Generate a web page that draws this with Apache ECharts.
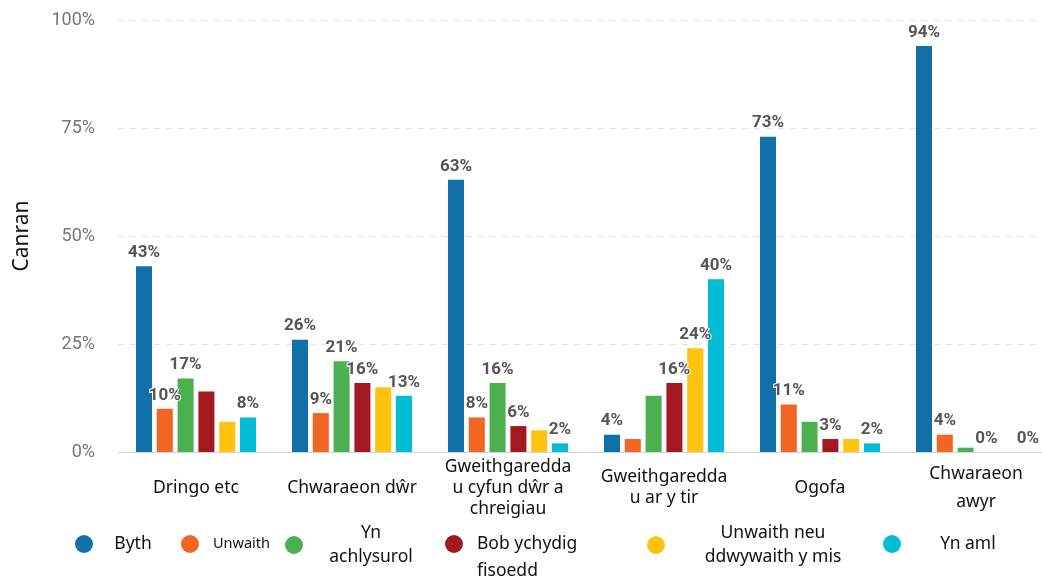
<!DOCTYPE html>
<html><head><meta charset="utf-8">
<script src="https://cdn.jsdelivr.net/npm/echarts@6/dist/echarts.min.js"></script>
<style>html,body{margin:0;padding:0;background:#fff}#c{width:1042px;height:577px}</style>
</head><body><div id="c"></div>
<script>
const categories = ['Dringo etc', 'Chwaraeon dŵr', 'Gweithgareddau cyfun dŵr a chreigiau', 'Gweithgareddau ar y tir', 'Ogofa', 'Chwaraeon awyr'];
const tickLabels = ['Dringo etc', 'Chwaraeon dŵr', 'Gweithgaredda\nu cyfun dŵr a\nchreigiau', 'Gweithgaredda\nu ar y tir', 'Ogofa', 'Chwaraeon\nawyr'];
const yTicks = [0, 25, 50, 75, 100];
const seriesNames = ['Byth', 'Unwaith', 'Yn achlysurol', 'Bob ychydig fisoedd', 'Unwaith neu ddwywaith y mis', 'Yn aml'];
const byth = [43, 26, 63, 4, 73, 94];
const unwaith = [10, 9, 8, 3, 11, 4];
const ynAchlysurol = [17, 21, 16, 13, 7, 1];
const bobYchydigFisoedd = [14, 16, 6, 16, 3, 0];
const unwaithNeuDdwywaith = [7, 15, 5, 24, 3, 0];
const ynAml = [8, 13, 2, 40, 2, 0];
// which data labels are visible in the reference (1 = shown)
const bythLabels = [1, 1, 1, 1, 1, 1];
const unwaithLabels = [1, 1, 1, 0, 1, 1];
const ynAchlysurolLabels = [1, 1, 1, 0, 0, 0];
const bobYchydigLabels = [0, 1, 1, 1, 1, 1];
const unwaithNeuLabels = [0, 0, 0, 1, 0, 0];
const ynAmlLabels = [1, 1, 1, 1, 1, 1];

const seriesValues = [byth, unwaith, ynAchlysurol, bobYchydigFisoedd, unwaithNeuDdwywaith, ynAml];
const seriesLabels = [bythLabels, unwaithLabels, ynAchlysurolLabels, bobYchydigLabels, unwaithNeuLabels, ynAmlLabels];
const colors = ['#1270a9', '#f26522', '#4caf50', '#a3191f', '#ffc20e', '#00bcd4'];

const textFont = '"Noto Sans", sans-serif';
const legendSpecs = [
  {left: 75, top: 535, fmt: '{t|Byth}', rich: {t: {width: 70, align: 'center', fontSize: 17.5, lineHeight: 20}}},
  {left: 181, top: 535, fmt: '{t|Unwaith}', rich: {t: {width: 75, align: 'center', fontSize: 14.5, lineHeight: 18}}},
  {left: 285, top: 524, fmt: '{t|Yn}\n{t|achlysurol}', rich: {t: {width: 126, align: 'center', fontSize: 17.5, lineHeight: 24}}},
  {left: 445, top: 535, fmt: '{t|Bob ychydig}\n{t|fisoedd}', pad: [27, 0, 0, 0], rich: {t: {padding: [0, 0, 0, 9], fontSize: 17.5, lineHeight: 27}}},
  {left: 647, top: 524, fmt: '{t|Unwaith neu}\n{t|ddwywaith y mis}', rich: {t: {width: 206, align: 'center', fontSize: 17.5, lineHeight: 24}}},
  {left: 883, top: 535, fmt: '{t|Yn aml}', rich: {t: {width: 124, align: 'center', fontSize: 17.5, lineHeight: 20}}}
];

const chart = echarts.init(document.getElementById('c'), null, {renderer: 'canvas'});
chart.setOption({
  animation: false,
  color: colors,
  grid: {left: 118, right: -12, top: 20, bottom: 125, containLabel: false, outerBoundsMode: 'none'},
  legend: legendSpecs.map((s, i) => ({
    data: [seriesNames[i]],
    left: s.left, top: s.top, padding: 0,
    itemWidth: 18, itemHeight: 18, icon: 'circle', selectedMode: false,
    formatter: () => s.fmt,
    textStyle: Object.assign({color: '#111', fontFamily: textFont, rich: s.rich}, s.pad ? {padding: s.pad} : {})
  })),
  xAxis: {
    type: 'category',
    data: categories,
    axisTick: {show: false},
    axisLine: {lineStyle: {color: '#ccd6eb', width: 1}},
    axisLabel: {
      interval: 0,
      margin: 36,
      verticalAlign: 'middle',
      color: '#111',
      fontSize: 17.5,
      lineHeight: 21,
      fontFamily: textFont,
      formatter: (v, i) => i === 5 ? tickLabels[i].split('\n').map(s => '{w|' + s + '}').join('\n') : tickLabels[i],
      rich: {w: {lineHeight: 28, fontSize: 17.5, color: '#111', fontFamily: textFont}}
    }
  },
  yAxis: {
    type: 'value',
    min: yTicks[0], max: yTicks[yTicks.length - 1], interval: 25,
    name: 'Canran',
    nameLocation: 'middle',
    nameRotate: 90,
    nameGap: 85,
    nameTextStyle: {color: '#111', fontSize: 21, fontFamily: textFont},
    axisLine: {show: false},
    axisTick: {show: false},
    axisLabel: {formatter: '{value}%', color: '#777', fontSize: 18, margin: 23, fontFamily: 'Roboto, sans-serif'},
    splitLine: {lineStyle: {color: '#e3e3e3', type: [6, 6], width: 1}}
  },
  series: seriesNames.map((n, si) => ({
    name: n,
    type: 'bar',
    barWidth: 16,
    barGap: '30%',
    data: seriesValues[si].map((v, ci) => ({value: v, label: {show: !!seriesLabels[si][ci]}})),
    label: {
      position: 'top',
      distance: 5,
      formatter: '{c}%',
      color: '#555',
      fontSize: 17,
      fontWeight: 'bold',
      fontFamily: 'Roboto, sans-serif',
      textBorderColor: '#fff',
      textBorderWidth: 2
    }
  }))
});
</script>
</body></html>
